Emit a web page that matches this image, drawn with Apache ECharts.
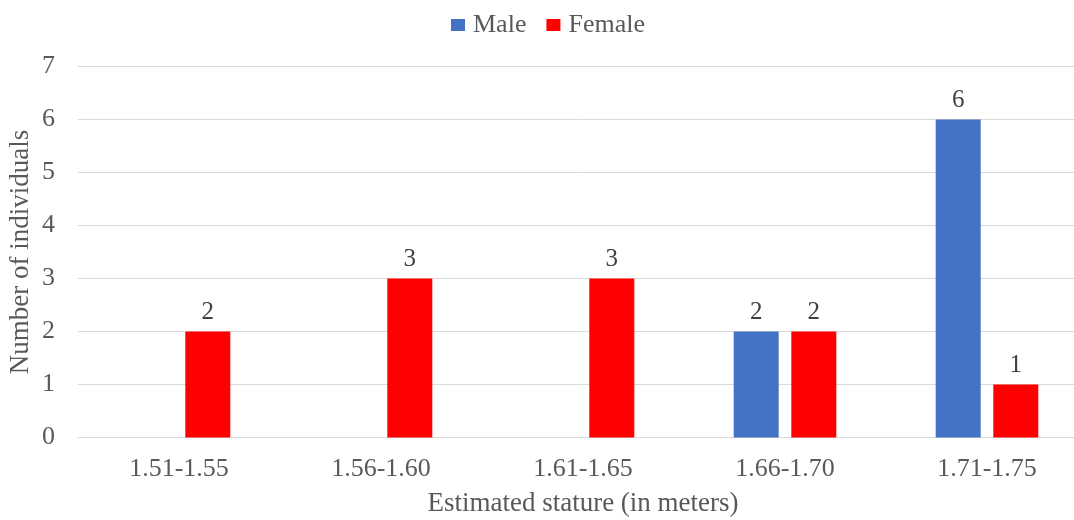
<!DOCTYPE html>
<html>
<head>
<meta charset="utf-8">
<script src="https://cdn.jsdelivr.net/npm/echarts@6/dist/echarts.min.js"></script>
<style>
html,body{margin:0;padding:0;background:#fff;}
#c{width:1074px;height:520px;}
</style>
</head>
<body>
<div id="c"></div>
<script>
var categories = ['1.51-1.55', '1.56-1.60', '1.61-1.65', '1.66-1.70', '1.71-1.75'];
var maleValues = [0, 0, 0, 2, 6];
var femaleValues = [2, 3, 3, 2, 1];
var yTicks = [0, 1, 2, 3, 4, 5, 6, 7];

var FONT = '"Liberation Serif", "Times New Roman", serif';
var chart = echarts.init(document.getElementById('c'), null, {renderer: 'canvas'});
var labelCfg = {
  show: true, position: 'top', distance: 7,
  color: '#404040', fontFamily: FONT, fontSize: 25,
  formatter: function (p) { return p.value === 0 ? '' : String(p.value); }
};
chart.setOption({
  animation: false,
  backgroundColor: '#ffffff',
  legend: {
    left: 446, top: 7,
    itemWidth: 14, itemHeight: 12, itemGap: 20,
    icon: 'rect',
    textStyle: {color: '#595959', fontFamily: FONT, fontSize: 26, padding: [0, 0, 0, 3]},
    data: ['Male', 'Female']
  },
  grid: {left: 78, width: 1010, top: 66.5, bottom: 82.5, containLabel: false, outerBoundsMode: 'none'},
  xAxis: {
    type: 'category',
    data: categories,
    name: 'Estimated stature (in meters)',
    nameLocation: 'middle',
    nameGap: 53,
    nameMoveOverlap: false,
    nameTextStyle: {color: '#595959', fontFamily: FONT, fontSize: 27},
    axisLine: {show: true, lineStyle: {color: '#D9D9D9', width: 1}},
    axisTick: {show: false},
    axisLabel: {color: '#595959', fontFamily: FONT, fontSize: 26, margin: 19}
  },
  yAxis: {
    type: 'value',
    min: yTicks[0], max: yTicks[yTicks.length - 1], interval: 1,
    name: 'Number of individuals',
    nameLocation: 'middle',
    nameGap: 44,
    nameMoveOverlap: false,
    nameRotate: 90,
    nameTextStyle: {color: '#595959', fontFamily: FONT, fontSize: 27},
    axisLine: {show: false},
    axisTick: {show: false},
    splitLine: {lineStyle: {color: '#D9D9D9', width: 1}},
    axisLabel: {color: '#595959', fontFamily: FONT, fontSize: 26, margin: 23}
  },
  series: [
    {name: 'Male', type: 'bar', data: maleValues, barWidth: 45, barGap: '28%',
     itemStyle: {color: '#4472C4'}, label: labelCfg},
    {name: 'Female', type: 'bar', data: femaleValues, barWidth: 45, barGap: '28%',
     itemStyle: {color: '#FF0000'}, label: labelCfg}
  ]
});
</script>
</body>
</html>
